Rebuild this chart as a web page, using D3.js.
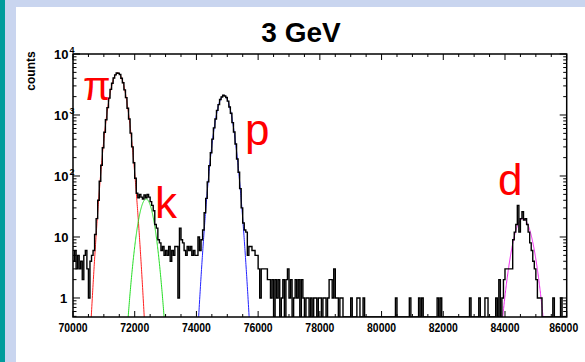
<!DOCTYPE html>
<html>
<head>
<meta charset="utf-8">
<script src="https://cdn.jsdelivr.net/npm/d3@7"></script>
<style>
  html, body { margin: 0; padding: 0; background: #c9d5ef; }
  svg { display: block; }
  text { font-family: "Liberation Sans", Arial, sans-serif; }
</style>
</head>
<body>
<svg width="585" height="362"></svg>
<script>
// histogram: 50-unit bins from 70000 to 86000, counts
const binStart = 70000;
const binWidth = 50;
const counts = [
  4,6,3,5,3,4,2,5,6,3,1,4,5,6,11,20,40,82,150,290,
  520,838,1322,1890,2630,3310,4050,4540,4890,4830,4600,4010,3370,2580,1930,1290,860,505,300,165,
  92,52,44,50,45,42,49,44,50,45,38,33,27,16,14,9,8,6,7,5,
  6,5,7,4,6,5,7,7,1,14,9,8,6,5,7,6,7,5,6,5,
  5,10,6,9,13,25,43,80,148,240,402,615,860,1190,1480,1800,1975,2110,2050,1935,
  1690,1350,1070,750,525,335,190,115,62,30,17,13,12,5,7,7,6,6,5,5,
  3,1,3,3,3,3,2,2,1,2,0,2,1,2,0,1,2,0,2,3,
  1,2,0,1,2,1,2,0,2,1,0,1,1,0,1,0,1,1,0,1,
  1,0,1,1,0,1,2,2,1,3,1,1,0,1,1,0,0,0,0,0,
  1,0,0,0,1,1,0,0,1,0,0,0,0,0,0,0,0,0,0,0,
  0,0,0,0,0,0,0,0,0,1,0,0,0,0,0,0,0,0,1,0,
  0,0,0,0,1,0,1,0,0,0,0,0,0,0,0,0,1,0,1,0,
  0,0,0,0,0,0,0,0,0,0,0,0,0,0,0,0,0,1,0,0,
  0,0,0,1,0,0,0,1,1,0,0,0,0,0,1,0,2,0,1,2,
  3,3,3,3,3,9,12,16,33,12,20,26,19,20,16,12,8,6,4,3,
  2,1,1,1,0,0,0,0,0,0,0,1,0,0,0,0,1,0,0,0
];

// gaussian fit results per particle
const particles = ["\u03c0", "k", "p", "d"];
const fitMean  = [71450, 72370, 74890, 84580];
const fitSigma = [200, 195, 200, 240];
const fitAmp   = [4900, 42, 2100, 20];

const xTickLabels = ["70000","72000","74000","76000","78000","80000","82000","84000","86000"];
const yDecades = [1, 10, 100, 1000, 10000];
const yDecadeLabels = [["1",""], ["10",""], ["10","2"], ["10","3"], ["10","4"]];

const fitColors = ["#ff2020", "#22dd22", "#2222ff", "#ee22ee"];

const svg = d3.select("svg");
const pLeft = 73, pRight = 566.7, pTop = 54, pBottom = 317;

// backdrop
svg.append("rect").attr("x", 0).attr("y", 0).attr("width", 585).attr("height", 362).attr("fill", "#c9d5ef");
svg.append("rect").attr("x", 0).attr("y", 0).attr("width", 5).attr("height", 362).attr("fill", "#009c9c");
svg.append("rect").attr("x", 16).attr("y", 7).attr("width", 569).attr("height", 355).attr("fill", "#ffffff");

const x = d3.scaleLinear().domain([70000, 86000]).range([pLeft, pRight]);
const y = d3.scaleLog().domain([0.488, 10000]).range([pBottom, pTop]).clamp(true);

svg.append("defs").append("clipPath").attr("id", "plot")
  .append("rect").attr("x", pLeft).attr("y", pTop).attr("width", pRight - pLeft).attr("height", pBottom - pTop);

// fit curves
const yFree = y.copy().clamp(false);
fitMean.forEach((m, i) => {
  const s = fitSigma[i], a = fitAmp[i];
  const xs = d3.range(m - 5 * s, m + 5 * s, 5);
  const line = d3.line()
    .x(v => x(v))
    .y(v => yFree(a * Math.exp(-((v - m) ** 2) / (2 * s * s))));
  svg.append("path")
    .attr("clip-path", "url(#plot)")
    .attr("d", line(xs))
    .attr("fill", "none")
    .attr("stroke", fitColors[i])
    .attr("stroke-width", 1);
});

// histogram as a step line
const pts = counts.map((c, i) => [binStart + i * binWidth, c]);
pts.push([binStart + counts.length * binWidth, counts[counts.length - 1]]);
const hist = d3.line()
  .x(d => x(d[0]))
  .y(d => y(Math.max(d[1], 0.1)))
  .curve(d3.curveStepAfter);
svg.append("path")
  .attr("clip-path", "url(#plot)")
  .attr("d", hist(pts))
  .attr("fill", "none")
  .attr("stroke", "#000")
  .attr("stroke-width", 1.4);

// frame
svg.append("rect").attr("x", pLeft).attr("y", pTop).attr("width", pRight - pLeft).attr("height", pBottom - pTop)
  .attr("fill", "none").attr("stroke", "#000").attr("stroke-width", 1.5);

// x ticks (bottom + top, pointing inward)
const xMinor = d3.range(70000, 86001, 500);
xMinor.forEach(v => {
  const major = v % 2000 === 0;
  const len = major ? 6 : 3;
  const px = x(v);
  svg.append("line").attr("x1", px).attr("x2", px).attr("y1", pBottom).attr("y2", pBottom - len).attr("stroke", "#000");
  svg.append("line").attr("x1", px).attr("x2", px).attr("y1", pTop).attr("y2", pTop + len).attr("stroke", "#000");
});
xTickLabels.forEach((t, i) => {
  const last = i === xTickLabels.length - 1;
  svg.append("text")
    .attr("x", last ? x(+t) - 3 : x(+t)).attr("y", 332)
    .attr("text-anchor", "middle")
    .attr("font-size", 13).attr("font-weight", "bold")
    .attr("textLength", 29).attr("lengthAdjust", "spacingAndGlyphs")
    .text(t);
});

// y ticks (left + right, log)
const yTicks = [];
for (let e = -1; e <= 3; e++) {
  for (let k = 1; k <= 9; k++) {
    const v = k * Math.pow(10, e);
    if (v >= 0.49 && v <= 10000) yTicks.push([v, k === 1]);
  }
}
yTicks.push([10000, true]);
yTicks.forEach(([v, major]) => {
  const len = major ? 7 : 3.5;
  const py = y(v);
  svg.append("line").attr("x1", pLeft).attr("x2", pLeft + len).attr("y1", py).attr("y2", py).attr("stroke", "#000");
  svg.append("line").attr("x1", pRight).attr("x2", pRight - len).attr("y1", py).attr("y2", py).attr("stroke", "#000");
});
yDecades.forEach((v, i) => {
  const [base, sup] = yDecadeLabels[i];
  const t = svg.append("text")
    .attr("x", base === "1" ? 60 : 54).attr("y", y(v) + 5)
    .attr("font-size", 13).attr("font-weight", "bold")
    .text(base);
  if (sup) {
    t.append("tspan").attr("dx", 1).attr("dy", -6).attr("font-size", 9).text(sup);
  }
});

// axis title
svg.append("text")
  .attr("transform", "translate(35,71) rotate(-90)")
  .attr("text-anchor", "middle")
  .attr("font-family", "Liberation Serif, Times New Roman, serif")
  .attr("font-weight", "bold")
  .attr("font-size", 12)
  .text("counts");

// chart title
svg.append("text")
  .attr("x", 301).attr("y", 42)
  .attr("text-anchor", "middle")
  .attr("font-size", 28).attr("font-weight", "bold")
  .text("3 GeV");

// particle labels
const labelPos = [[83, 100], [155, 218], [245, 145], [498, 195]];
particles.forEach((p, i) => {
  svg.append("text")
    .attr("x", labelPos[i][0]).attr("y", labelPos[i][1])
    .attr("fill", "#ff0000")
    .attr("font-size", i === 0 ? 40 : 44)
    .attr("font-family", i === 0 ? "DejaVu Serif, serif" : "Liberation Sans, Arial, sans-serif")
    .text(p);
});
</script>
</body>
</html>
